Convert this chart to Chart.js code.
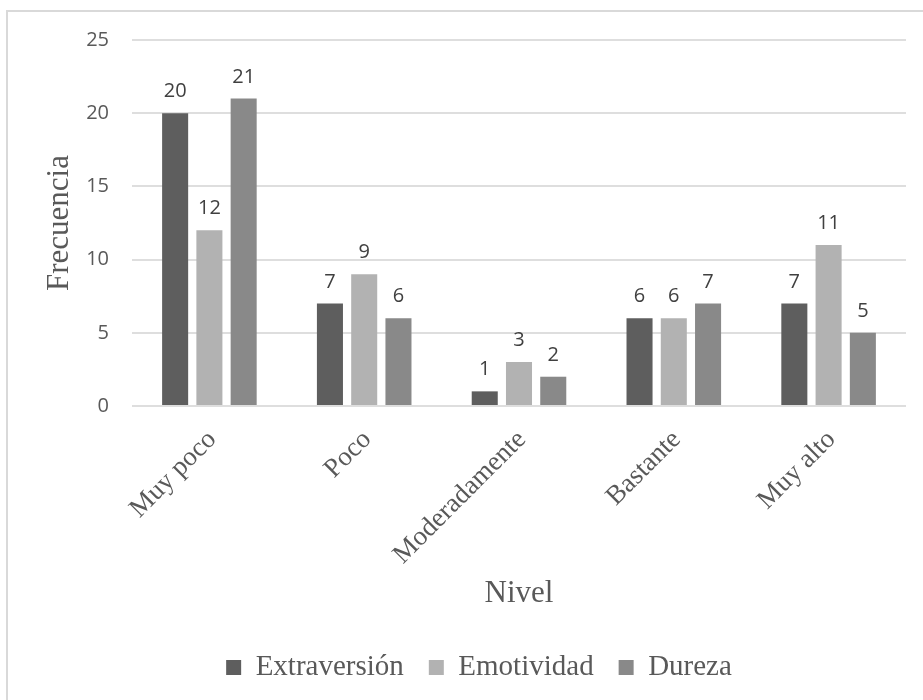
<!DOCTYPE html>
<html>
<head>
<meta charset="utf-8">
<script src="https://cdn.jsdelivr.net/npm/chart.js@4.4.1/dist/chart.umd.min.js"></script>
<style>
  html, body { margin: 0; padding: 0; background: #ffffff; overflow: hidden; }
  #frame {
    position: absolute; left: 6px; top: 10px;
    width: 1000px; height: 1000px;
    border-top: 2px solid #d9d9d9; border-left: 2px solid #d9d9d9;
  }
  #chart { position: absolute; left: 8px; top: 12px; }
</style>
</head>
<body>
<div id="frame"></div>
<canvas id="chart" width="915" height="688" style="width:915px;height:688px"></canvas>
<script>
// Niveles por rasgo de personalidad
const categories = ['Muy poco', 'Poco', 'Moderadamente', 'Bastante', 'Muy alto'];
const extraversion = [20, 7, 1, 6, 7];
const emotividad = [12, 9, 3, 6, 11];
const dureza = [21, 6, 2, 7, 5];
const seriesNames = ['Extraversión', 'Emotividad', 'Dureza'];
const yTicks = [0, 5, 10, 15, 20, 25];

const serif = '"Liberation Serif", "Times New Roman", serif';
const sans = '"Open Sans", "Noto Sans", sans-serif';
const textGray = '#595959';

// Value printed above each bar
const valueLabels = {
  id: 'valueLabels',
  afterDatasetsDraw(chart) {
    const ctx = chart.ctx;
    ctx.save();
    ctx.font = '20px ' + sans;
    ctx.fillStyle = '#404040';
    ctx.textAlign = 'center';
    ctx.textBaseline = 'alphabetic';
    chart.data.datasets.forEach((ds, i) => {
      chart.getDatasetMeta(i).data.forEach((bar, j) => {
        ctx.fillText(String(ds.data[j]), bar.x, bar.y - 16);
      });
    });
    ctx.restore();
  }
};

new Chart(document.getElementById('chart'), {
  type: 'bar',
  data: {
    labels: categories,
    datasets: [
      { label: seriesNames[0], data: extraversion, backgroundColor: '#5e5e5e' },
      { label: seriesNames[1], data: emotividad, backgroundColor: '#b2b2b2' },
      { label: seriesNames[2], data: dureza, backgroundColor: '#898989' }
    ]
  },
  options: {
    responsive: false,
    devicePixelRatio: 1,
    animation: false,
    categoryPercentage: 0.664,
    barPercentage: 0.76,
    layout: { padding: { left: 44, right: 17, top: 28, bottom: 8 } },
    plugins: {
      tooltip: { enabled: false },
      legend: {
        position: 'bottom',
        labels: {
          boxWidth: 15,
          boxHeight: 15,
          padding: 25,
          color: textGray,
          font: { family: serif, size: 29 }
        }
      }
    },
    scales: {
      x: {
        grid: { display: false },
        border: { display: false },
        ticks: {
          autoSkip: false,
          maxRotation: 45,
          minRotation: 45,
          padding: 10,
          labelOffset: 3,
          color: textGray,
          font: { family: serif, size: 27 }
        },
        title: {
          display: true,
          text: 'Nivel',
          color: textGray,
          font: { family: serif, size: 31, lineHeight: 1 },
          padding: { top: 0, bottom: 19 }
        },
        afterFit(scale) { scale.height = 222; }
      },
      y: {
        min: 0,
        max: 25,
        afterBuildTicks(scale) { scale.ticks = yTicks.map(v => ({ value: v })); },
        grid: { color: '#dedede', lineWidth: 2, drawTicks: false },
        border: { display: false },
        ticks: {
          padding: 23,
          color: textGray,
          font: { family: sans, size: 20 }
        },
        title: {
          display: true,
          text: 'Frecuencia',
          color: textGray,
          font: { family: serif, size: 31, lineHeight: 1 },
          padding: { top: -8, bottom: 0 }
        },
        afterFit(scale) {
          scale.width = 80;
          scale.paddingTop = 0;
          scale.paddingBottom = 0;
        }
      }
    }
  },
  plugins: [valueLabels]
});
</script>
</body>
</html>
